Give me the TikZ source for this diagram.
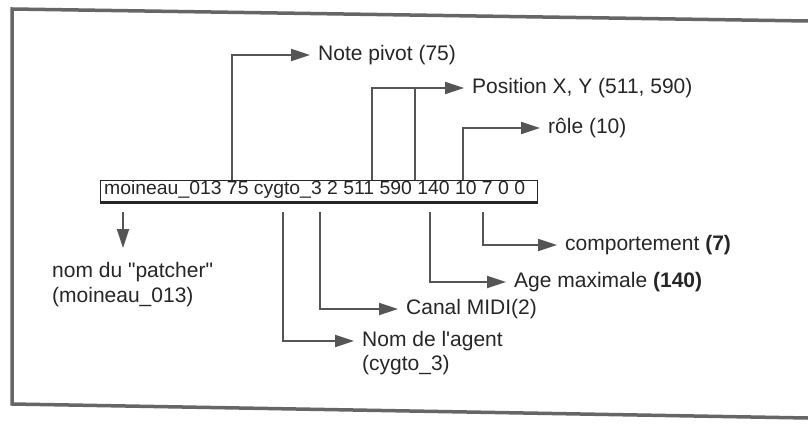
\documentclass[tikz,border=0pt]{standalone}
\usepackage{fontspec}
\setmainfont{Liberation Sans}
\usetikzlibrary{arrows.meta,calc}
\definecolor{ln}{HTML}{555555}
\definecolor{tx}{HTML}{262626}
\definecolor{fr}{HTML}{666666}
\tikzset{
  conn/.style={draw=ln, line width=1.9pt, -{Triangle[length=19pt,width=12pt]}, shorten >=8pt},
  lab/.style={anchor=west, inner sep=0pt, text=tx, font=\fontsize{21}{25}\selectfont},
  labl/.style={anchor=north west, inner sep=0pt, text=tx, align=left, font=\fontsize{21}{25}\selectfont},
}
\begin{document}
\begin{tikzpicture}[x=1pt,y=-1pt]
\useasboundingbox (0,0) rectangle (808,423);
% frame
\draw[fr, line width=3.5pt] (808,21) -- (12,9) -- (12,404) -- (808,418);
% bar
\node[draw=tx, line width=1.4pt, minimum width=437pt, minimum height=21pt, anchor=north west, inner sep=0pt] (bar) at (100,180) {};
\draw[tx, line width=3.2pt] (bar.south west) -- (bar.south east);
\node[anchor=west, inner sep=0pt, text=tx] (bartext) at (104,190) {\scalebox{1.02}[1]{\fontsize{19}{22}\selectfont moineau\_013 75 cygto\_3 2 511 590 140 10 7 0 0}};
% labels
\node[lab] (pivot) at (318,55) {Note pivot (75)};
\node[lab] (pos) at (472,88) {Position X, Y (511, 590)};
\node[lab] (role) at (548,128) {rôle (10)};
\node[lab] (comp) at (565,245) {comportement \textbf{(7)}};
\node[lab] (age) at (514,282) {Age maximale \textbf{(140)}};
\node[lab] (midi) at (406,309) {Canal MIDI(2)};
\node[lab] (agent) at (362,341) {Nom de l\textquotesingle agent};
\node[lab] (agent2) at (362,365) {(cygto\_3)};
\node[labl] (patch) at (52,262) {nom du \textquotedbl patcher\textquotedbl\\(moineau\_013)};
% anchor points on the bar
\coordinate (u75) at (232,180);
\coordinate (u511) at (372,180);
\coordinate (u590) at (415,180);
\coordinate (u10) at (463,180);
\coordinate (dpat) at (123,212);
\coordinate (dcyg) at (283,212);
\coordinate (d2) at (320,212);
\coordinate (d140) at (430,212);
\coordinate (d7) at (483,212);
% connectors
\draw[conn] (u75) |- (pivot.west);
\draw[conn] (u511) |- (pos.west);
\draw[draw=ln, line width=1.9pt] (u590) -- (u590 |- pos.west);
\draw[conn] (u10) |- (role.west);
\draw[conn] (d7) |- (comp.west);
\draw[conn] (d140) |- (age.west);
\draw[conn] (d2) |- (midi.west);
\draw[conn] (dcyg) |- (agent.west);
\draw[conn, shorten >=14pt] (dpat) -- (dpat |- patch.north);
\end{tikzpicture}
\end{document}
